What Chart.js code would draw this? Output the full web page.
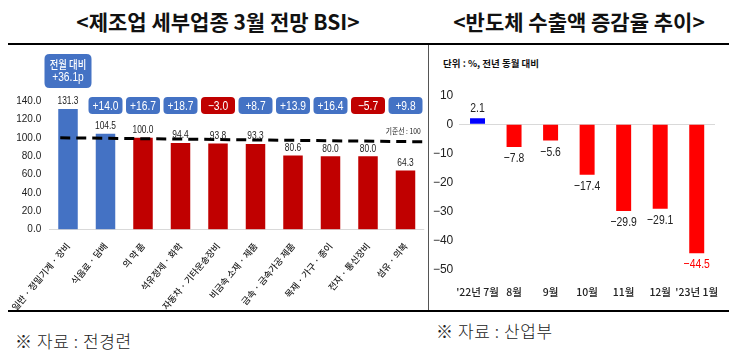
<!DOCTYPE html>
<html><head><meta charset="utf-8">
<script src="https://cdn.jsdelivr.net/npm/chart.js@4/dist/chart.umd.min.js"></script>
<style>
html,body{margin:0;padding:0;background:#fff}
body{width:740px;height:356px;overflow:hidden;position:relative;font-family:'Noto Sans CJK KR',sans-serif;color:#111}
.abs{position:absolute}
.title{font-weight:700;font-size:21px;white-space:nowrap;top:8px;line-height:26px;transform:translateX(-50%)}
.rule{background:#000}
.note{font-size:17px;font-weight:300;white-space:nowrap;line-height:20px;color:#222;letter-spacing:0.6px}
canvas{position:absolute;display:block}
</style>
</head><body>
<div class="abs title" id="t1" style="left:218px">&lt;제조업 세부업종 3월 전망 BSI&gt;</div>
<div class="abs title" id="t2" style="left:579px">&lt;반도체 수출액 증감율 추이&gt;</div>
<div class="abs rule" style="left:8px;top:43px;width:721px;height:2px"></div>
<div class="abs rule" style="left:8px;top:310px;width:721px;height:2px"></div>
<div class="abs" style="left:428px;top:45px;width:1px;height:265px;background:#555"></div>
<div class="abs" id="unit" style="left:443px;top:55px;font-size:9.5px;font-weight:700;white-space:nowrap;line-height:16px">단위 : %, 전년 동월 대비</div>
<div class="abs note" style="left:15px;top:331px">※ 자료 : 전경련</div>
<div class="abs note" style="left:436px;top:321px">※ 자료 : 산업부</div>
<canvas id="c1" width="420" height="266" style="left:8px;top:44px;width:420px;height:266px"></canvas>
<canvas id="c2" width="310" height="266" style="left:430px;top:44px;width:310px;height:266px"></canvas>
<script>
// ---------- data: left chart (BSI) ----------
const bsiCategories = ['일반 · 정밀기계 · 장비','식음료 · 담배','의 약 품','석유정제 · 화학','자동차 · 기타운송장비','비금속 소재 · 제품','금속 · 금속가공 제품','목재 · 가구 · 종이','전자 · 통신장비','섬유 · 의복'];
const bsiValues = [131.3, 104.5, 100.0, 94.4, 93.8, 93.3, 80.6, 80.0, 80.0, 64.3];
const bsiChange = [36.1, 14.0, 16.7, 18.7, -3.0, 8.7, 13.9, 16.4, -5.7, 9.8];
const bsiTicks = [0, 20, 40, 60, 80, 100, 120, 140];
const bsiBaseline = 100;
const bsiBaselineDrawnEnd = 95.6;
const bsiBaselineLabel = '기준선 : 100';
const bsiFirstBadgeTitle = '전월 대비';

// ---------- data: right chart (semiconductor exports) ----------
const expCategories = ["'22년 7월", '8월', '9월', '10월', '11월', '12월', "'23년 1월"];
const expValues = [2.1, -7.8, -5.6, -17.4, -29.9, -29.1, -44.5];
const expTicks = [10, 0, -10, -20, -30, -40, -50];

const NARROW = "'Liberation Sans Narrow','Arial Narrow','Liberation Sans','Noto Sans CJK KR',sans-serif";
const KR = "'Noto Sans CJK KR',sans-serif";
const BLUE = '#4472C4', RED = '#C00000';
const BLUE2 = '#0000FF', RED2 = '#FF0000';
const minus = s => s.replace('-', '−');

function roundRect(ctx, x, y, w, h, r) {
  ctx.beginPath();
  ctx.moveTo(x + r, y);
  ctx.lineTo(x + w - r, y); ctx.quadraticCurveTo(x + w, y, x + w, y + r);
  ctx.lineTo(x + w, y + h - r); ctx.quadraticCurveTo(x + w, y + h, x + w - r, y + h);
  ctx.lineTo(x + r, y + h); ctx.quadraticCurveTo(x, y + h, x, y + h - r);
  ctx.lineTo(x, y + r); ctx.quadraticCurveTo(x, y, x + r, y);
  ctx.closePath();
}
function narrowText(ctx, txt, x, y, sx) {
  ctx.save(); ctx.translate(x, y); ctx.scale(sx, 1); ctx.fillText(txt, 0, 0); ctx.restore();
}

const leftDeco = {
  id: 'leftDeco',
  afterDatasetsDraw(chart) {
    const { ctx, chartArea: ca, scales: { y } } = chart;
    const meta = chart.getDatasetMeta(0);
    ctx.save();
    // dashed baseline
    ctx.setLineDash([10, 6]);
    ctx.lineWidth = 3;
    ctx.strokeStyle = '#000';
    ctx.beginPath();
    ctx.moveTo(ca.left + 11, y.getPixelForValue(bsiBaseline));
    ctx.lineTo(ca.right + 3, y.getPixelForValue(bsiBaselineDrawnEnd));
    ctx.stroke();
    ctx.setLineDash([]);
    // value labels
    ctx.fillStyle = '#222';
    ctx.font = '10.5px ' + NARROW;
    ctx.textAlign = 'center';
    ctx.textBaseline = 'middle';
    meta.data.forEach((bar, i) => {
      narrowText(ctx, bsiValues[i].toFixed(1), bar.x, bar.y - 7.5, 0.8);
    });
    // baseline note
    ctx.font = '8px ' + KR;
    narrowText(ctx, bsiBaselineLabel, ca.right - 21, y.getPixelForValue(107), 0.85);
    // badges
    meta.data.forEach((bar, i) => {
      const v = bsiChange[i];
      const col = v >= 0 ? BLUE : RED;
      const txt = (v >= 0 ? '+' : '−') + Math.abs(v).toFixed(1);
      ctx.fillStyle = col;
      if (i === 0) {
        const w = 47, h = 34, cy = ca.top - 30;
        roundRect(ctx, bar.x - w / 2, cy - h / 2, w, h, 5);
        ctx.fill();
        ctx.fillStyle = '#fff';
        ctx.font = '500 11px ' + KR;
        narrowText(ctx, bsiFirstBadgeTitle, bar.x, cy - 6, 0.85);
        ctx.font = '12.5px ' + NARROW;
        narrowText(ctx, txt + 'p', bar.x, cy + 7, 0.82);
      } else {
        const w = 34, h = 17, cy = ca.top + 4.6;
        roundRect(ctx, bar.x - w / 2, cy - h / 2, w, h, 4);
        ctx.fill();
        ctx.fillStyle = '#fff';
        ctx.font = '12.5px ' + NARROW;
        narrowText(ctx, txt, bar.x, cy + 0.5, 0.82);
      }
    });
    ctx.restore();
  }
};

new Chart(document.getElementById('c1'), {
  type: 'bar',
  data: {
    labels: bsiCategories,
    datasets: [{
      data: bsiValues,
      backgroundColor: bsiValues.map(v => v > bsiBaseline ? BLUE : RED),
      barPercentage: 0.52,
      categoryPercentage: 1
    }]
  },
  options: {
    responsive: false, animation: false, devicePixelRatio: 1,
    layout: { padding: { top: 57, right: 3.75, left: 0, bottom: 0 } },
    plugins: { legend: { display: false }, tooltip: { enabled: false } },
    scales: {
      x: {
        grid: { display: false }, border: { display: false },
        ticks: { autoSkip: false, minRotation: 50, maxRotation: 50, color: '#222', padding: 3, font: { family: KR, size: 9, weight: '500' } },
        afterFit(s) { s.height = 80.3; s.paddingLeft = 0; s.paddingRight = 0; }
      },
      y: {
        min: 0, max: 140,
        afterBuildTicks(s) { s.ticks = bsiTicks.map(v => ({ value: v })); },
        ticks: { callback: v => Number(v).toFixed(1), color: '#222', padding: 8, font: { family: NARROW, size: 10 } },
        grid: { color: c => c.tick && c.tick.value === 0 ? '#d9d9d9' : 'rgba(0,0,0,0)', drawTicks: false },
        border: { display: false },
        afterFit(s) { s.width = 41.25; }
      }
    }
  },
  plugins: [leftDeco]
});

const rightDeco = {
  id: 'rightDeco',
  afterDatasetsDraw(chart) {
    const { ctx } = chart;
    const meta = chart.getDatasetMeta(0);
    ctx.save();
    ctx.font = '13px ' + NARROW;
    ctx.textAlign = 'center';
    ctx.textBaseline = 'middle';
    meta.data.forEach((bar, i) => {
      const v = expValues[i];
      ctx.fillStyle = i === expValues.length - 1 ? RED2 : '#222';
      const txt = minus(v.toFixed(1));
      narrowText(ctx, txt, bar.x, v >= 0 ? bar.y - 10 : bar.y + 11.5, 0.8);
    });
    ctx.restore();
  }
};

new Chart(document.getElementById('c2'), {
  type: 'bar',
  data: {
    labels: expCategories,
    datasets: [{
      data: expValues,
      backgroundColor: expValues.map(v => v >= 0 ? BLUE2 : RED2),
      barPercentage: 0.41,
      categoryPercentage: 1
    }]
  },
  options: {
    responsive: false, animation: false, devicePixelRatio: 1,
    layout: { padding: { top: 51.3, right: 25, left: 0, bottom: 0 } },
    plugins: { legend: { display: false }, tooltip: { enabled: false } },
    scales: {
      x: {
        grid: { display: false }, border: { display: false },
        ticks: { autoSkip: false, maxRotation: 0, color: '#222', padding: 8, font: { family: KR, size: 10.5, weight: '500' } },
        afterFit(s) { s.height = 40.7; s.paddingLeft = 0; s.paddingRight = 0; }
      },
      y: {
        min: -50, max: 10,
        afterBuildTicks(s) { s.ticks = expTicks.map(v => ({ value: v })); },
        ticks: { callback: v => minus(String(v)), color: '#222', padding: 6, font: { family: NARROW, size: 12 } },
        grid: { color: c => c.tick && c.tick.value === 0 ? '#d9d9d9' : 'rgba(0,0,0,0)', drawTicks: false },
        border: { display: false },
        afterFit(s) { s.width = 29.25; }
      }
    }
  },
  plugins: [rightDeco]
});
</script>
</body></html>
